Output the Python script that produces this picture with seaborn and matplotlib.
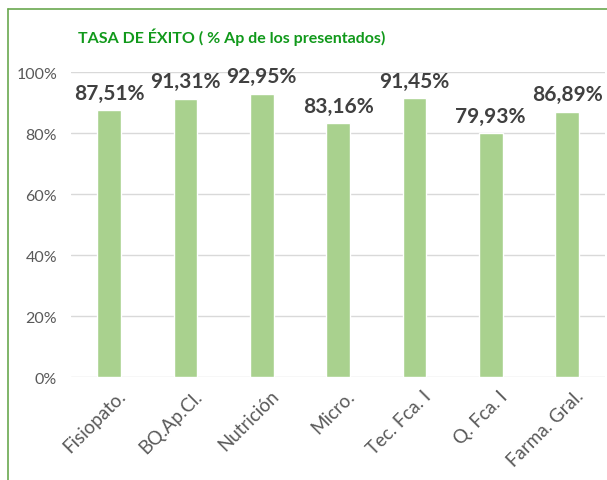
import numpy as np
import pandas as pd
import matplotlib.pyplot as plt
import matplotlib.transforms as mtransforms
import seaborn as sns
from matplotlib.lines import Line2D

asignaturas = ['Fisiopato.', 'BQ.Ap.Cl.', 'Nutrición', 'Micro.', 'Tec. Fca. I', 'Q. Fca. I', 'Farma. Gral.']
tasa_exito = [87.51, 91.31, 92.95, 83.16, 91.45, 79.93, 86.89]
y_ticks = [0, 20, 40, 60, 80, 100]

df = pd.DataFrame({'asig': asignaturas, 'tasa': tasa_exito})

sns.set_theme(style='white')
plt.rcParams['font.family'] = ['Lato', 'DejaVu Sans']

fig = plt.figure(figsize=(6.07, 4.81), dpi=100)
ax = fig.add_axes([0.117, 0.214, 0.880, 0.634])

sns.barplot(data=df, x='asig', y='tasa', color='#A9D18E', width=0.31,
            saturation=1, ax=ax, zorder=3)

ax.set_ylim(0, 100)
ax.set_yticks(y_ticks)
ax.set_yticklabels([f'{t}%' for t in y_ticks], fontsize=11.5, color='#595959')
ax.yaxis.grid(True, color='#D9D9D9', linewidth=1)
ax.set_axisbelow(True)
for s in ax.spines.values():
    s.set_visible(False)
ax.tick_params(axis='y', length=0, pad=10)
ax.tick_params(axis='x', length=0, pad=7)
ax.set_xlabel('')
ax.set_ylabel('')
shift = mtransforms.ScaledTranslation(8 / 100, 0, fig.dpi_scale_trans)
for lab in ax.get_xticklabels():
    lab.set_rotation(45)
    lab.set_ha('right')
    lab.set_rotation_mode('anchor')
    lab.set_fontsize(13.5)
    lab.set_color('#595959')
    lab.set_transform(lab.get_transform() + shift)

for i, v in enumerate(tasa_exito):
    ax.text(i, v + 2.5, f'{v:.2f}%'.replace('.', ','), ha='center', va='bottom',
            fontsize=15, fontweight='bold', color='#404040')

fig.text(0.128, 0.922, 'TASA DE ÉXITO ( % Ap de los presentados)', fontsize=11.5,
         fontweight='bold', color='#11991B', va='center', ha='left')

# green frame around the chart (only top and left visible)
fig.add_artist(Line2D([8 / 607, 1], [1 - 10 / 481, 1 - 10 / 481], color='#6AA84F', lw=1.2))
fig.add_artist(Line2D([8 / 607, 8 / 607], [0, 1 - 10 / 481], color='#6AA84F', lw=1.2))

fig.savefig('out.png', dpi=100)
